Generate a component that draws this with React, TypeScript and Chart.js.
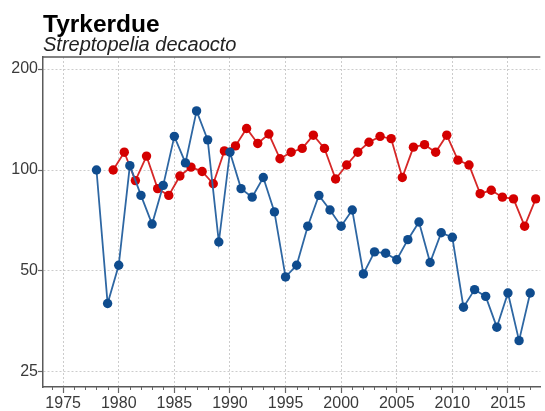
import React, { useEffect, useRef } from 'react';
import { Chart, registerables } from 'chart.js';

Chart.register(...registerables);

const titleText = 'Tyrkerdue';
const subtitleText = 'Streptopelia decaocto';

const blueYears = [
  1978, 1979, 1980, 1981, 1982, 1983, 1984, 1985, 1986, 1987,
  1988, 1989, 1990, 1991, 1992, 1993, 1994, 1995, 1996, 1997,
  1998, 1999, 2000, 2001, 2002, 2003, 2004, 2005, 2006, 2007,
  2008, 2009, 2010, 2011, 2012, 2013, 2014, 2015, 2016, 2017,
];
const blueValues = [
  100, 40, 52, 103, 84, 69, 90, 126, 105, 150,
  123, 61, 113, 88, 83, 95, 75, 48, 52, 68,
  84, 76, 68, 76, 49, 57, 56.5, 54, 62, 70,
  53, 65, 63, 39, 44, 42, 34, 43, 31, 43,
];

// winter seasons (e.g. 1979/80), plotted at the middle of the season
const redSeasons = [
  1979, 1980, 1981, 1982, 1983, 1984, 1985, 1986, 1987, 1988,
  1989, 1990, 1991, 1992, 1993, 1994, 1995, 1996, 1997, 1998,
  1999, 2000, 2001, 2002, 2003, 2004, 2005, 2006, 2007, 2008,
  2009, 2010, 2011, 2012, 2013, 2014, 2015, 2016, 2017,
];
const redValues = [
  100, 113, 93, 110, 88, 84, 96, 102, 99, 91,
  114, 118, 133, 120, 128, 108, 113, 116, 127, 116,
  94, 103.5, 113, 121, 126, 124, 95, 117, 119, 113,
  127, 107, 103.5, 85, 87, 83, 82, 68, 82,
];
const SEASON_OFFSET = 0.5;

const xTickValues = [1975, 1980, 1985, 1990, 1995, 2000, 2005, 2010, 2015];
const yTickValues = [25, 50, 100, 200];

const FONT = '"Liberation Sans", Arial, Helvetica, sans-serif';
const FRAME = '#5a5a5a';
const LABEL = '#3a3a3a';
const GRID = '#cccccc';

export default function App() {
  const ref = useRef<HTMLCanvasElement>(null);

  useEffect(() => {
    const canvas = ref.current;
    if (!canvas) return;

    const framePlugin = {
      id: 'frameAndTitles',
      afterDraw(chart: any) {
        const { ctx, chartArea } = chart;
        const { left, right, top, bottom } = chartArea;
        ctx.save();
        ctx.strokeStyle = FRAME;
        ctx.lineWidth = 1.5;
        ctx.beginPath();
        ctx.moveTo(left, top);
        ctx.lineTo(right, top);
        ctx.stroke();

        const xs = chart.scales.x;
        ctx.lineWidth = 1;
        ctx.strokeStyle = '#666666';
        for (let yr = Math.ceil(xs.min); yr <= xs.max; yr++) {
          if (xTickValues.includes(yr)) continue;
          const px = Math.round(xs.getPixelForValue(yr)) + 0.5;
          ctx.beginPath();
          ctx.moveTo(px, bottom);
          ctx.lineTo(px, bottom + 3);
          ctx.stroke();
        }

        ctx.textAlign = 'left';
        ctx.textBaseline = 'alphabetic';
        ctx.fillStyle = '#000000';
        ctx.font = `bold 24.5px ${FONT}`;
        ctx.fillText(titleText, 43, 32);
        ctx.fillStyle = '#222222';
        ctx.font = `italic 20px ${FONT}`;
        ctx.fillText(subtitleText, 43, 51);
        ctx.restore();
      },
    };

    const chart = new Chart(canvas, {
      type: 'line',
      data: {
        datasets: [
          {
            label: 'blue',
            data: blueYears.map((x, i) => ({ x, y: blueValues[i] })),
            borderColor: '#2e67a3',
            backgroundColor: '#0f4c8e',
            pointBackgroundColor: '#0f4c8e',
            pointBorderColor: '#0f4c8e',
            pointRadius: 4.7,
            pointBorderWidth: 0,
            borderWidth: 1.8,
            tension: 0,
          },
          {
            label: 'red',
            data: redSeasons.map((x, i) => ({ x: x + SEASON_OFFSET, y: redValues[i] })),
            borderColor: '#d62828',
            backgroundColor: '#d40000',
            pointBackgroundColor: '#d40000',
            pointBorderColor: '#d40000',
            pointRadius: 4.7,
            pointBorderWidth: 0,
            borderWidth: 1.8,
            tension: 0,
          },
        ],
      },
      options: {
        responsive: false,
        animation: false,
        layout: { padding: { top: 57, left: 0, right: 0, bottom: 0 } },
        plugins: {
          legend: { display: false },
          tooltip: { enabled: false },
          title: { display: false },
        },
        scales: {
          x: {
            type: 'linear',
            min: 1973.19,
            max: 2017.91,
            afterBuildTicks: (s: any) => {
              s.ticks = xTickValues.map((v) => ({ value: v }));
            },
            afterFit: (s: any) => {
              s.height = 24;
            },
            ticks: {
              font: { family: FONT, size: 16 },
              color: LABEL,
              padding: 1,
              maxRotation: 0,
              autoSkip: false,
              callback: (v: any) => String(v),
            },
            grid: {
              color: GRID,
              lineWidth: 1,
              tickLength: 6,
              tickColor: '#666666',
              tickWidth: 1.2,
            },
            border: { display: true, color: FRAME, width: 1.5, dash: [2, 2] },
          },
          y: {
            type: 'logarithmic',
            min: 22.55,
            max: 217.2,
            afterBuildTicks: (s: any) => {
              s.ticks = yTickValues.map((v) => ({ value: v }));
            },
            afterFit: (s: any) => {
              s.width = 43;
            },
            ticks: {
              font: { family: FONT, size: 16 },
              color: LABEL,
              padding: 0,
              autoSkip: false,
              callback: (v: any) => String(v),
            },
            grid: {
              color: GRID,
              lineWidth: 1,
              tickLength: 5,
              tickColor: '#666666',
              tickWidth: 1.2,
            },
            border: { display: true, color: FRAME, width: 1.5, dash: [2, 2] },
          },
        },
      },
      plugins: [framePlugin],
    } as any);

    return () => {
      chart.destroy();
    };
  }, []);

  return (
    <div style={{ position: 'absolute', left: 0, top: 0, width: 545, height: 411 }}>
      <canvas ref={ref} width={545} height={411} />
    </div>
  );
}
